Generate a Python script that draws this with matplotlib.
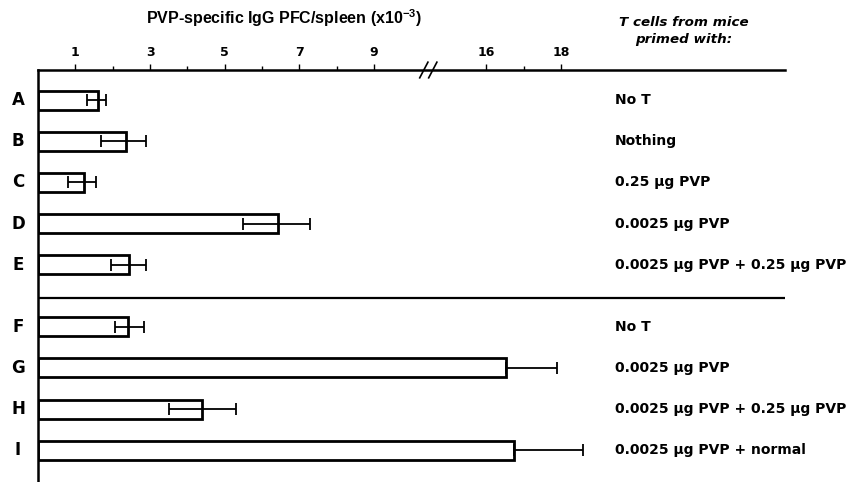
import numpy as np
import matplotlib
matplotlib.use("Agg")
import matplotlib.pyplot as plt
import matplotlib.transforms as mtransforms
from matplotlib.ticker import FixedLocator, NullFormatter

plt.rcParams['font.family'] = ['Liberation Sans', 'DejaVu Sans']
plt.rcParams['mathtext.fontset'] = 'custom'
plt.rcParams['mathtext.rm'] = 'Liberation Sans:bold'
plt.rcParams['mathtext.bf'] = 'Liberation Sans:bold'
plt.rcParams['mathtext.it'] = 'Liberation Sans:bold'

# ---- data ----
groups = ["A", "B", "C", "D", "E", "F", "G", "H", "I"]
primed = ["No T", "Nothing", "0.25 µg PVP", "0.0025 µg PVP",
          "0.0025 µg PVP + 0.25 µg PVP",
          "No T", "0.0025 µg PVP", "0.0025 µg PVP + 0.25 µg PVP",
          "0.0025 µg PVP + normal"]
means = [1.6, 2.35, 1.22, 6.43, 2.43, 2.41, 16.53, 4.4, 16.74]
err_lo = [0.30, 0.65, 0.43, 0.93, 0.48, 0.36, 0.0, 0.90, 0.0]
err_hi = [0.22, 0.55, 0.34, 0.86, 0.47, 0.42, 1.37, 0.89, 1.86]
tick_vals = [1, 3, 5, 7, 9, 16, 18]
minor_vals = [2, 4, 6, 8, 17]
break_lo, break_hi = 10.45, 14.45
gap = break_hi - break_lo

def fwd(v):
    v = np.asarray(v, dtype=float)
    return np.where(v <= break_lo, v, v - gap)

def inv(d):
    d = np.asarray(d, dtype=float)
    return np.where(d <= break_lo, d, d + gap)

fig = plt.figure(figsize=(8.49, 4.82), dpi=100)
ax = fig.add_axes([38/849, 0.0, (785-38)/849, 1 - 70/482])
ax.set_xscale('function', functions=(fwd, inv))

# y positions: two blocks separated by a gap
ypos = np.array([0, 1, 2, 3, 4, 5.5, 6.5, 7.5, 8.5])
sep_y = 4.8

ax.barh(ypos, means, height=0.46, left=0, color='white', edgecolor='black',
        linewidth=2.0, zorder=2)
ax.errorbar(means, ypos, xerr=[err_lo, err_hi], fmt='none', ecolor='black',
            elinewidth=1.3, capsize=4, capthick=1.3, zorder=3)

ax.axhline(sep_y, color='black', lw=1.6, zorder=1)

ax.set_xlim(0, 24)
ax.set_ylim(9.27, -0.73)

for s in ['right', 'bottom']:
    ax.spines[s].set_visible(False)
ax.spines['top'].set_linewidth(1.8)
ax.spines['left'].set_linewidth(1.8)

ax.xaxis.tick_top()
ax.xaxis.set_major_locator(FixedLocator(tick_vals))
ax.xaxis.set_minor_locator(FixedLocator(minor_vals))
ax.xaxis.set_minor_formatter(NullFormatter())
ax.set_xticklabels([str(t) for t in tick_vals], fontsize=9, fontweight='bold',
                   family='DejaVu Sans')
ax.tick_params(axis='x', which='major', direction='out', length=4, width=1, pad=4)
ax.tick_params(axis='x', which='minor', direction='out', length=3, width=1)
ax.set_yticks([])

# group letters
trans_l = mtransforms.blended_transform_factory(fig.transFigure, ax.transData)
for g, y in zip(groups, ypos):
    ax.text(18/849, y, g, transform=trans_l, ha='center', va='center',
            fontsize=12, fontweight='bold', family='DejaVu Sans')

# right labels
trans_r = mtransforms.blended_transform_factory(ax.transAxes, ax.transData)
for lab, y in zip(primed, ypos):
    ax.text((615-38)/747, y, lab, transform=trans_r, ha='left', va='center',
            fontsize=10, fontweight='bold', family='DejaVu Sans')

# break marks
trans_b = mtransforms.blended_transform_factory(ax.transData, ax.transAxes)
for dx in (-0.12, 0.12):
    ax.plot([inv(break_lo + dx - 0.11), inv(break_lo + dx + 0.11)],
            [0.981, 1.019], transform=trans_b, color='black', lw=1.2,
            clip_on=False, zorder=5)

# titles
fig.text(284/849, 1 - 18/482, "PVP-specific IgG PFC/spleen (x10$^{-3}$)",
         ha='center', va='center', fontsize=11.5, fontweight='bold')
fig.text(684/849, 1 - 22/482, "T cells from mice", ha='center', va='center',
         fontsize=9.7, fontweight='bold', style='italic', family='DejaVu Sans')
fig.text(684/849, 1 - 40/482, "primed with:", ha='center', va='center',
         fontsize=9.7, fontweight='bold', style='italic', family='DejaVu Sans')

fig.savefig("out.png", dpi=100)
